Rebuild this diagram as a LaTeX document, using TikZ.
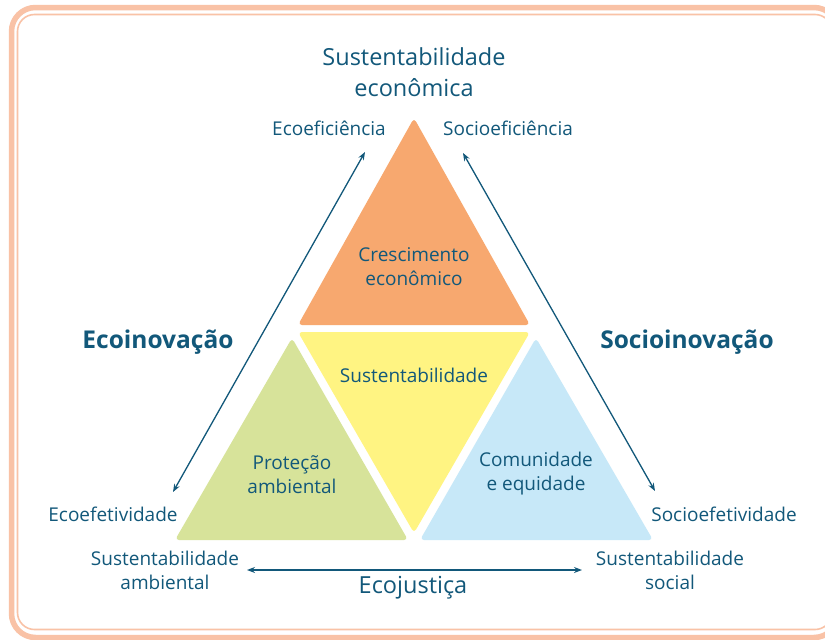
\documentclass[tikz,border=0pt]{standalone}
\usepackage{fontspec}
\setmainfont{Open Sans}
\usetikzlibrary{arrows.meta}
\definecolor{txt}{HTML}{12587A}
\definecolor{bord}{HTML}{F9C2A6}
\definecolor{orangef}{HTML}{F7A86F}
\definecolor{yellowf}{HTML}{FFF482}
\definecolor{greenf}{HTML}{D7E39A}
\definecolor{bluef}{HTML}{C7E8F8}
\tikzset{
  lbl/.style={text=txt, font=\fontsize{19}{24}\selectfont, align=center, inner sep=0pt},
  biglbl/.style={text=txt, font=\fontsize{23.5}{31}\selectfont, align=center, inner sep=0pt},
  boldlbl/.style={text=txt, font=\fontsize{24.5}{28}\selectfont\bfseries, align=center, inner sep=0pt},
  tri/.style={rounded corners=4pt},
  arr/.style={draw=txt, line width=1.3pt, {Stealth[length=8pt,width=6pt]}-{Stealth[length=8pt,width=6pt]}}
}
\begin{document}
\begin{tikzpicture}[x=1pt,y=-1pt]
\useasboundingbox (0,0) rectangle (825,640);
\fill[white] (0,0) rectangle (825,640);
\begin{scope}
\clip (0,0) rectangle (825,640);
\draw[bord, line width=5.5pt, rounded corners=24pt] (11.5,7.5) rectangle (838,637.5);
\draw[bord, line width=1.6pt, rounded corners=17pt] (17.5,14.5) rectangle (832,629.5);
\end{scope}
% triangles
\fill[orangef, tri] (414,118) -- (530,325) -- (298,325) -- cycle;
\fill[yellowf, tri] (298,332) -- (530,332) -- (414,533) -- cycle;
\fill[greenf, tri] (292,338) -- (408,540) -- (175,540) -- cycle;
\fill[bluef, tri] (536,338) -- (653,540) -- (420,540) -- cycle;
% texts
\node[biglbl] (top) at (414,72) {Sustentabilidade\\econômica};
\node[lbl] (ecoef) at (329,128) {Ecoeficiência};
\node[lbl] (socef) at (508,128) {Socioeficiência};
\node[boldlbl] (ecoin) at (158,342) {Ecoinovação};
\node[boldlbl] (socin) at (687,342) {Socioinovação};
\node[lbl] (ecoefe) at (113,514) {Ecoefetividade};
\node[lbl] (socefe) at (724,514) {Socioefetividade};
\node[lbl] (sambi) at (165,570) {Sustentabilidade\\ambiental};
\node[lbl] (ssoc) at (670,570) {Sustentabilidade\\social};
\node[biglbl] (ecoj) at (413,588) {Ecojustiça};
\node[lbl] (cresc) at (414,267) {Crescimento\\econômico};
\node[lbl] (sust) at (414,375) {Sustentabilidade};
\node[lbl] (prot) at (292,475) {Proteção\\ambiental};
\node[lbl] (comu) at (536,474) {Comunidade\\e equidade};
% arrows
\coordinate (a1) at (173,492);
\coordinate (a2) at (365,152);
\coordinate (b1) at (463,153);
\coordinate (b2) at (655,491);
\coordinate (c1) at (247,570);
\coordinate (c2) at (582,570);
\draw[arr] (a1) -- (a2);
\draw[arr] (b1) -- (b2);
\draw[arr] (c1) -- (c2);
\end{tikzpicture}
\end{document}
